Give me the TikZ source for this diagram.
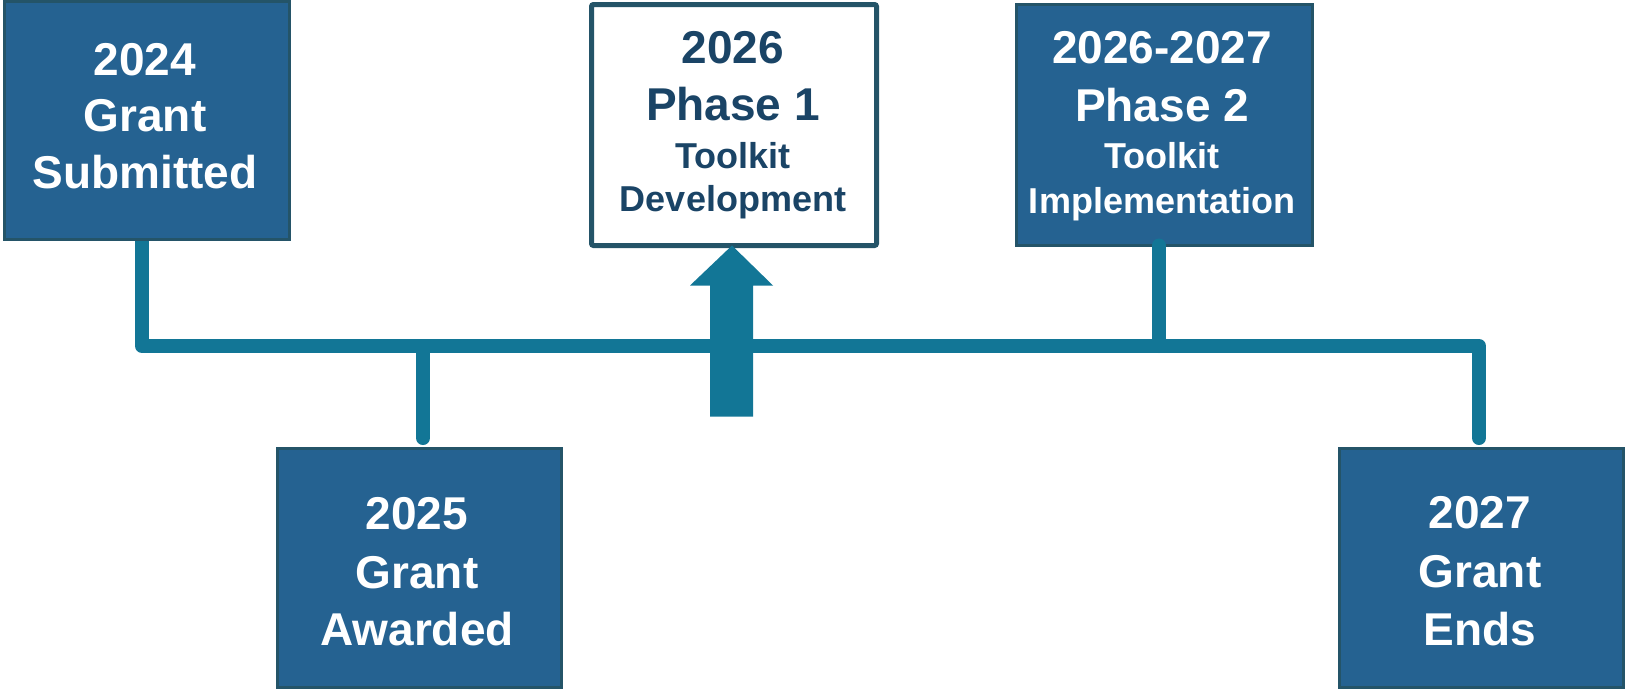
\documentclass[tikz,border=0pt]{standalone}
\usepackage{fontspec}
\setmainfont{Liberation Sans}
\definecolor{boxfill}{RGB}{37,98,145}
\definecolor{boxline}{RGB}{36,84,104}
\definecolor{teal}{RGB}{18,118,150}
\definecolor{navy}{RGB}{26,68,102}
\pgfdeclarelayer{background}
\pgfsetlayers{background,main}
\begin{document}
\begin{tikzpicture}[x=1pt,y=-1pt,
  bluebox/.style={draw=boxline,fill=boxfill,line width=3pt,rectangle,inner sep=0pt,outer sep=0pt},
  whitebox/.style={draw=boxline,fill=white,line width=5pt,rectangle,inner sep=0pt,outer sep=0pt,rounded corners=2pt},
  big/.style={anchor=base,inner sep=0pt,font=\bfseries\fontsize{46pt}{55pt}\selectfont},
  small/.style={anchor=base,inner sep=0pt,font=\bfseries\fontsize{36pt}{43pt}\selectfont},
  wt/.style={text=white},
  nt/.style={text=navy},
  conn/.style={draw=teal,line width=14pt,line cap=round,line join=round}
]
\useasboundingbox (0,0) rectangle (1626,691);
% boxes
\node[bluebox,minimum width=285pt,minimum height=238pt] (b1) at (147,120.5) {};
\node[whitebox,minimum width=285pt,minimum height=241pt] (b2) at (734,125) {};
\node[bluebox,minimum width=296pt,minimum height=241pt] (b3) at (1164.5,125) {};
\node[bluebox,minimum width=284pt,minimum height=239pt] (b4) at (419.5,568) {};
\node[bluebox,minimum width=284pt,minimum height=239pt] (b5) at (1481.5,568) {};
% junctions
\coordinate (j1) at (142,346);
\coordinate (j4) at (423,346);
\coordinate (j3) at (1159,346);
\coordinate (j5) at (1479,346);
\coordinate (e4) at (423,438);
\coordinate (e5) at (1479,438);
\begin{pgfonlayer}{background}
\draw[conn] (b1.south -| j1) -- (j1) -- (j5) -- (e5);
\draw[conn] (j4) -- (e4);
\end{pgfonlayer}
\draw[conn] (j3) -- (b3.south -| j3);
% arrow
\coordinate (tip) at (b2.south -| 732,0);
\fill[teal] (tip) -- ++(-42,40) -- ++(20,0) -- ++(0,131) -- ++(43,0) -- ++(0,-131) -- ++(20,0) -- cycle;
% texts
\node[big,wt] (t1a) at (145,75) {2024};
\node[big,wt] (t1b) at (145,131) {Grant};
\node[big,wt] (t1c) at (145,188) {Submitted};
\node[big,nt] (t2a) at (733,63) {2026};
\node[big,nt] (t2b) at (733,120) {Phase 1};
\node[small,nt] (t2c) at (733,168) {Toolkit};
\node[small,nt] (t2d) at (733,211) {Development};
\node[big,wt] (t3a) at (1162,63) {2026-2027};
\node[big,wt] (t3b) at (1162,121) {Phase 2};
\node[small,wt] (t3c) at (1162,168) {Toolkit};
\node[small,wt] (t3d) at (1162,213) {Implementation};
\node[big,wt] (t4a) at (417,529) {2025};
\node[big,wt] (t4b) at (417,588) {Grant};
\node[big,wt] (t4c) at (417,645) {Awarded};
\node[big,wt] (t5a) at (1480,528) {2027};
\node[big,wt] (t5b) at (1480,587) {Grant};
\node[big,wt] (t5c) at (1480,645) {Ends};
\end{tikzpicture}
\end{document}
